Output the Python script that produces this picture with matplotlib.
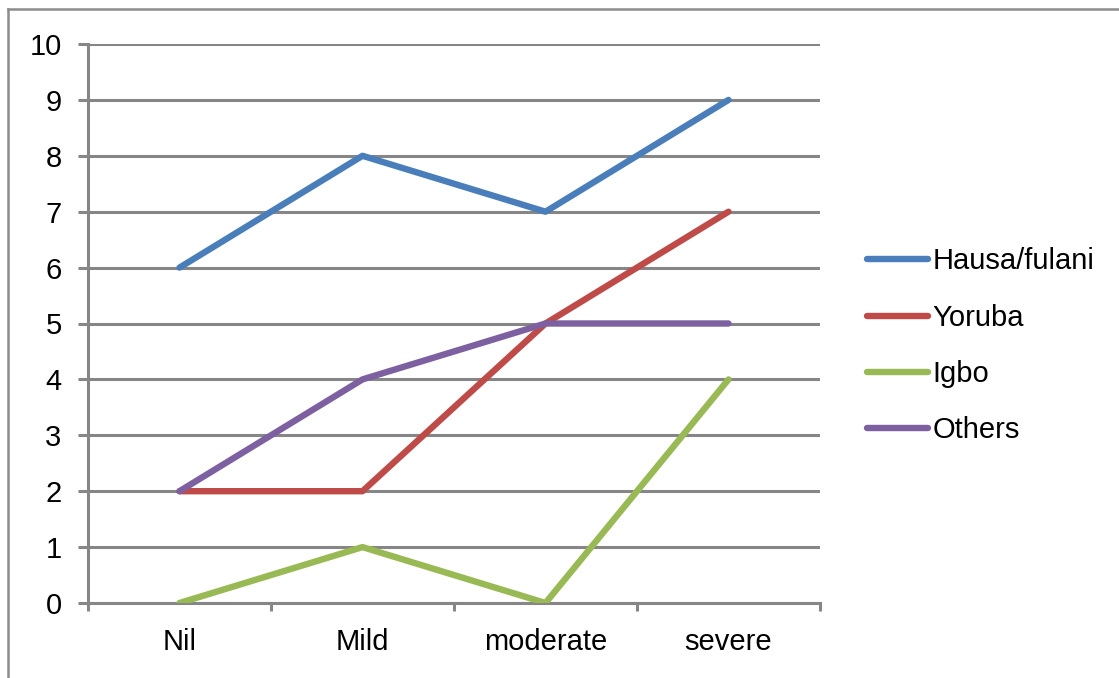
import matplotlib.pyplot as plt
from matplotlib.lines import Line2D

categories = ["Nil", "Mild", "moderate", "severe"]
hausa_fulani = [6, 8, 7, 9]
yoruba = [2, 2, 5, 7]
igbo = [0, 1, 0, 4]
others = [2, 4, 5, 5]

series = [
    ("Hausa/fulani", hausa_fulani, "#4a7ebb"),
    ("Yoruba", yoruba, "#be4b48"),
    ("Igbo", igbo, "#98b954"),
    ("Others", others, "#7d60a0"),
]

plt.rcParams['font.family'] = ['Liberation Sans', 'DejaVu Sans']
grey = "#868686"

fig = plt.figure(figsize=(11.19, 6.78), dpi=100)
ax = fig.add_axes([88 / 1119, 1 - 603 / 678, 732 / 1119, 559 / 678])

x = range(len(categories))
for name, vals, color in series:
    ax.plot(x, vals, color=color, lw=4.6, label=name,
            solid_capstyle='round', solid_joinstyle='round', zorder=3)

ax.set_xlim(-0.5, len(categories) - 0.5)
ax.set_ylim(0, 10)
ax.set_yticks(range(0, 11))
ax.set_xticks([i - 0.5 for i in range(len(categories) + 1)])
ax.set_xticklabels([])
ax.set_xticks(list(x), minor=True)
ax.set_xticklabels(categories, minor=True)

ax.yaxis.grid(True, color=grey, lw=2.2)
ax.set_axisbelow(True)
for s in ["top", "right"]:
    ax.spines[s].set_visible(False)
for s in ["left", "bottom"]:
    ax.spines[s].set_color(grey)
    ax.spines[s].set_linewidth(2.2)

ax.tick_params(axis='y', length=7, width=2.2, color=grey, pad=12, labelsize=21)
ax.tick_params(axis='x', which='major', length=6, width=2.2, color=grey, direction='out')
ax.tick_params(axis='x', which='minor', length=0, pad=18, labelsize=21)

ax.legend(loc='center left', bbox_to_anchor=(1.048, 0.46), frameon=False,
          fontsize=21, handlelength=2.1, handletextpad=0.15, labelspacing=0.97,
          borderaxespad=0)

# outer chart frame
fig.add_artist(Line2D([7.5 / 1119, 7.5 / 1119], [0, 1 - 8.5 / 678],
                      transform=fig.transFigure, color="#8c8c8c", lw=1.8))
fig.add_artist(Line2D([7.5 / 1119, 1], [1 - 8.5 / 678, 1 - 8.5 / 678],
                      transform=fig.transFigure, color="#8c8c8c", lw=1.8))

fig.savefig("out.png", dpi=100)
